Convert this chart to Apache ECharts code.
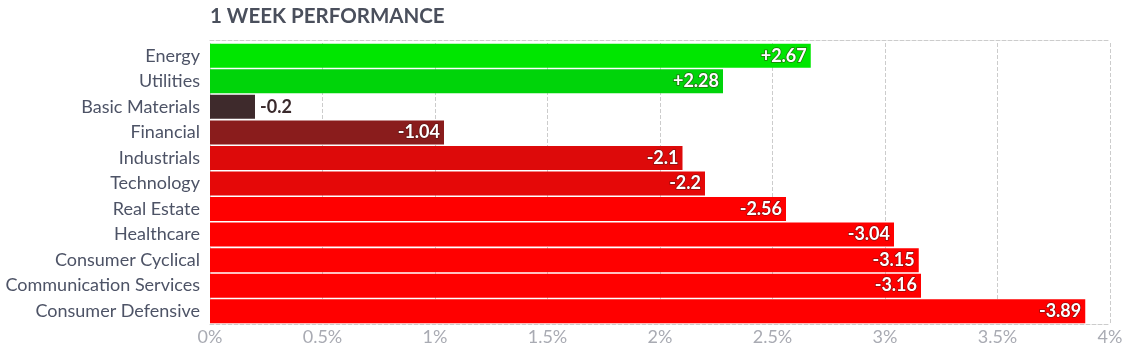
<!DOCTYPE html>
<html>
<head>
<meta charset="utf-8">
<script src="https://cdn.jsdelivr.net/npm/echarts@6/dist/echarts.min.js"></script>
<style>
	html, body { margin: 0; padding: 0; background: #fff; }
	#chart { width: 1134px; height: 351px; }
</style>
</head>
<body>
<div id="chart"></div>
<script>
var sectors = [ 'Energy', 'Utilities', 'Basic Materials', 'Financial',
		'Industrials', 'Technology', 'Real Estate', 'Healthcare',
		'Consumer Cyclical', 'Communication Services', 'Consumer Defensive' ];
var change = [ 2.67, 2.28, -0.2, -1.04, -2.1, -2.2, -2.56, -3.04, -3.15,
		-3.16, -3.89 ];
var tickValues = [ 0, 0.5, 1, 1.5, 2, 2.5, 3, 3.5, 4 ];

// colours follow the finviz-ish scale, one per bar
var barColors = [ '#00e600', '#00d40a', '#3e2a2c', '#8a1c1c', '#dd0a0a',
		'#e50808', '#ff0000', '#ff0000', '#ff0000', '#ff0000', '#ff0000' ];

var myChart = echarts.init(document.getElementById('chart'));

var seriesData = change.map(function(v, i) {
	var small = Math.abs(v) < 0.5;
	return {
		value : Math.abs(v),
		raw : v,
		itemStyle : { color : barColors[i] },
		label : small ? {
			position : 'right',
			distance : 5,
			color : '#3a2a2c',
			textBorderWidth : 0
		} : {}
	};
});

myChart.setOption({
	animation : false,
	title : {
		text : '1 WEEK PERFORMANCE',
		left : 205,
		top : 1,
		textStyle : {
			fontFamily : 'Lato',
			fontSize : 20.5,
			fontWeight : 'bold',
			color : '#4a4f5c'
		}
	},
	grid : {
		left : 210,
		right : 24,
		top : 43,
		bottom : 27,
		containLabel : false
	},
	xAxis : [ {
		type : 'value',
		min : tickValues[0],
		max : tickValues[tickValues.length - 1],
		interval : 0.5,
		axisLine : {
			show : true,
			lineStyle : { color : '#cccccc', type : 'dashed', width : 1 }
		},
		axisTick : { show : false },
		axisLabel : {
			color : '#a9abb3',
			fontFamily : 'Lato',
			fontSize : 18,
			margin : 4,
			formatter : function(v) { return v + '%'; }
		},
		splitLine : {
			show : true,
			lineStyle : { color : '#cccccc', type : 'dashed', width : 1 }
		}
	}, {
		type : 'value',
		position : 'top',
		offset : 3,
		min : tickValues[0],
		max : tickValues[tickValues.length - 1],
		axisLine : {
			show : true,
			lineStyle : { color : '#cccccc', type : 'dashed', width : 1 }
		},
		axisTick : { show : false },
		axisLabel : { show : false },
		splitLine : { show : false }
	} ],
	yAxis : {
		type : 'category',
		data : sectors,
		inverse : true,
		axisLine : { show : false },
		axisTick : { show : false },
		axisLabel : {
			color : '#4d5366',
			fontFamily : 'Lato',
			fontSize : 18,
			margin : 10
		}
	},
	series : [ {
		type : 'bar',
		xAxisIndex : 0,
		data : seriesData,
		barCategoryGap : '6%',
		label : {
			show : true,
			position : 'insideRight',
			distance : 4,
			fontFamily : 'Lato',
			fontSize : 18,
			fontWeight : 'bold',
			color : '#ffffff',
			textBorderColor : 'rgba(60,20,20,0.55)',
			textBorderWidth : 1.5,
			formatter : function(p) {
				var v = p.data.raw;
				return v > 0 ? '+' + v : String(v);
			}
		}
	} ]
});
</script>
</body>
</html>
